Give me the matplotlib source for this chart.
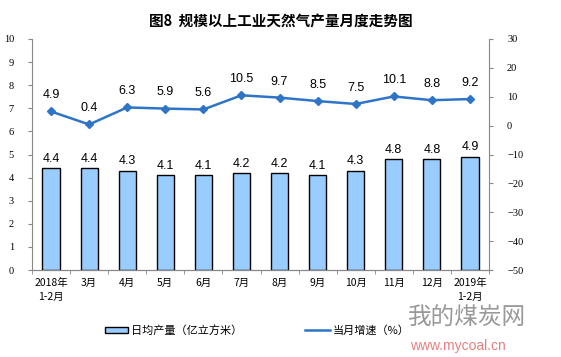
import matplotlib
matplotlib.use("Agg")
import matplotlib.pyplot as plt
import numpy as np

plt.rcParams['font.family'] = ['Noto Sans CJK SC', 'DejaVu Sans']

months = ["2018年\n1-2月", "3月", "4月", "5月", "6月", "7月", "8月", "9月", "10月", "11月", "12月", "2019年\n1-2月"]
daily_output = [4.4, 4.4, 4.3, 4.1, 4.1, 4.2, 4.2, 4.1, 4.3, 4.8, 4.8, 4.9]
growth = [4.9, 0.4, 6.3, 5.9, 5.6, 10.5, 9.7, 8.5, 7.5, 10.1, 8.8, 9.2]

fig = plt.figure(figsize=(5.61, 3.57), dpi=100)
ax = fig.add_axes([32/561, 1 - 270/357, 457/561, 231/357])
ax2 = ax.twinx()

x = np.arange(len(months))
ax.bar(x, daily_output, width=0.45, color='#99CCFF', edgecolor='black', linewidth=1.0, zorder=2)
for xi, v in zip(x, daily_output):
    ax.text(xi, v + 0.15, f"{v:.1f}", ha='center', va='bottom', fontsize=9,
            family='Liberation Sans')

ax2.plot(x, growth, color='#2E75C8', linewidth=1.8, marker='D', markersize=4, zorder=3)
for xi, v in zip(x, growth):
    ax2.text(xi, v + 3.5, f"{v:.1f}", ha='center', va='bottom', fontsize=9,
             family='Liberation Sans')

ax.set_xlim(-0.5, len(months) - 0.5)
ax.set_ylim(0, 10)
ax2.set_ylim(-50, 30)
ax.set_yticks(range(0, 11))
ax2.set_yticks(range(-50, 31, 10))

ax.set_xticks(x)
ax.set_xticklabels(months, fontsize=7.5, linespacing=1.5)
ax.set_xticks(np.arange(-0.5, len(months)), minor=True)
ax.tick_params(axis='x', which='major', length=0, pad=6)
ax.tick_params(axis='x', which='minor', length=3, color='#888888', direction='out')
ax.tick_params(axis='y', length=3, color='#888888', labelsize=7.5, pad=10)
ax2.tick_params(axis='y', length=3, color='#888888', labelsize=7.5, pad=10)
for lab in ax.get_yticklabels() + ax2.get_yticklabels():
    lab.set_family('Liberation Serif')

for a in (ax, ax2):
    a.spines['top'].set_visible(False)
    for s in ('left', 'right', 'bottom'):
        a.spines[s].set_color('#888888')
        a.spines[s].set_linewidth(0.8)
ax2.spines['left'].set_visible(False)
ax.spines['right'].set_visible(False)

fig.text(0.5, 1 - 22/357, "图8  规模以上工业天然气产量月度走势图", ha='center', va='center',
         fontsize=10.5, fontweight='bold')

# legend
from matplotlib.patches import Rectangle
from matplotlib.lines import Line2D
fig.patches.append(Rectangle((105/561, 1 - 333/357), 23/561, 6/357, transform=fig.transFigure,
                             facecolor='#99CCFF', edgecolor='black', linewidth=1.0))
fig.text(131/561, 1 - 330/357, "日均产量（亿立方米）", ha='left', va='center', fontsize=8)
fig.lines.append(Line2D([305/561, 330/561], [1 - 330/357, 1 - 330/357], transform=fig.transFigure,
                        color='#2E75C8', linewidth=1.8))
fig.text(333/561, 1 - 330/357, "当月增速（%）", ha='left', va='center', fontsize=8)

# watermark
fig.text(408/561, 1 - 318/357, "我的煤炭网", ha='left', va='center', fontsize=17, color='#808080', alpha=0.8)
fig.text(410/561, 1 - 346/357, "www.mycoal.cn", ha='left', va='center', fontsize=10,
         color='#E06060', family='Liberation Sans', alpha=0.8)

fig.savefig("out.png", dpi=100)
